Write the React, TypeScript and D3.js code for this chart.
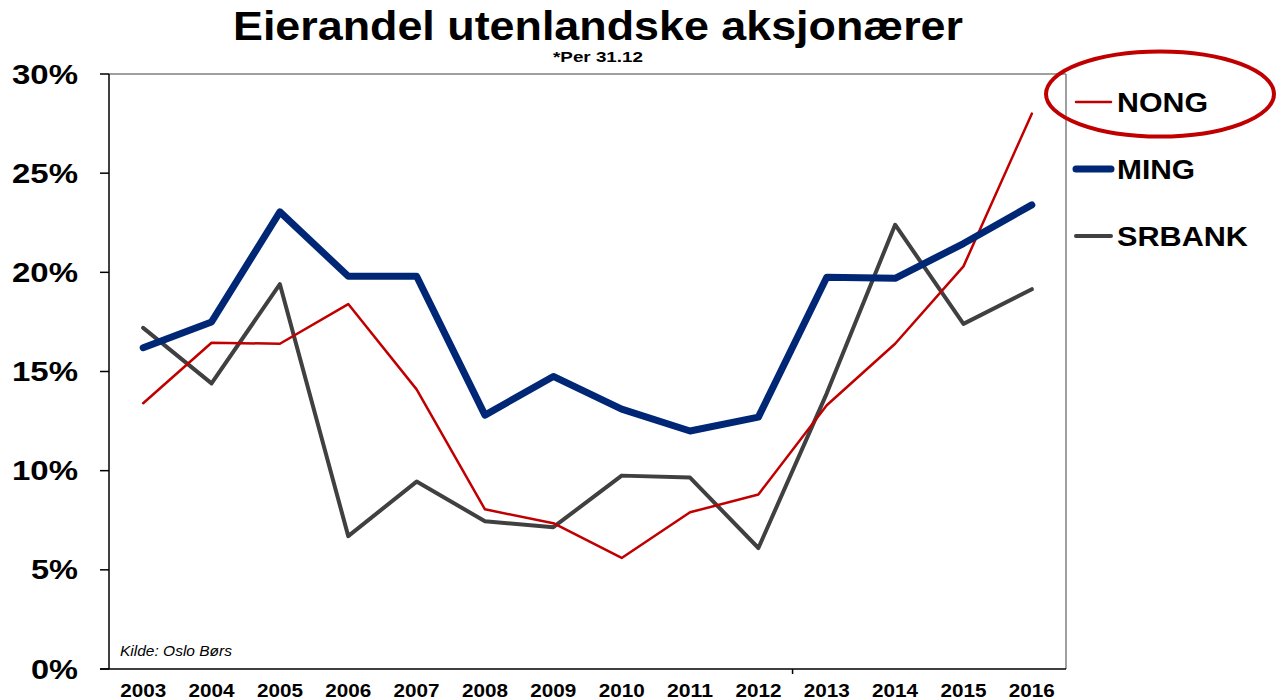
import React from "react"
import * as d3 from "d3"

const years = ["2003", "2004", "2005", "2006", "2007", "2008", "2009", "2010", "2011", "2012", "2013", "2014", "2015", "2016"]
const nong = [13.4, 16.45, 16.4, 18.4, 14.1, 8.05, 7.35, 5.6, 7.9, 8.8, 13.3, 16.4, 20.3, 28.0]
const ming = [16.2, 17.5, 23.05, 19.8, 19.8, 12.8, 14.75, 13.1, 12.0, 12.7, 19.75, 19.7, 21.45, 23.4]
const srbank = [17.2, 14.4, 19.4, 6.7, 9.45, 7.45, 7.15, 9.75, 9.65, 6.1, 13.9, 22.4, 17.4, 19.15]
const yTicks = [0, 5, 10, 15, 20, 25, 30]

const series = [
  {name: "NONG", values: nong, color: "#C00000", width: 2.5, labelW: 91},
  {name: "MING", values: ming, color: "#002776", width: 7, labelW: 78},
  {name: "SRBANK", values: srbank, color: "#404040", width: 4, labelW: 131},
]

const left = 109, right = 1066, top = 74, bottom = 669

const App = () => {
  const x = d3.scalePoint().domain(years).range([left, right]).padding(0.5)
  const step = x.step()
  const y = d3.scaleLinear().domain([0, 30]).range([bottom, top])
  const line = d3.line<number>()
    .x((d, i) => x(years[i]) as number)
    .y(d => y(d))

  return (
    <svg width={1276} height={700} style={{position: "absolute", left: 0, top: 0}}
      fontFamily="'Liberation Sans', Arial, sans-serif">
      <rect width={1276} height={700} fill="#fff" />
      <text x={598} y={40} textAnchor="middle" fontSize={41} fontWeight="bold"
        textLength={730} lengthAdjust="spacingAndGlyphs">Eierandel utenlandske aksjonærer</text>
      <text x={598} y={62} textAnchor="middle" fontSize={14} fontWeight="bold"
        textLength={90} lengthAdjust="spacingAndGlyphs">*Per 31.12</text>

      {/* frame */}
      <line x1={left} x2={right} y1={top} y2={top} stroke="#808080" strokeWidth={1.5} />
      <line x1={right} x2={right} y1={top} y2={bottom} stroke="#808080" strokeWidth={1.5} />
      <line x1={left} x2={left} y1={top} y2={bottom} stroke="#000" strokeWidth={1.5} />
      <line x1={100} x2={right} y1={bottom} y2={bottom} stroke="#000" strokeWidth={1.5} />
      <line x1={left + step * 10} x2={left + step * 10} y1={bottom} y2={bottom + 5} stroke="#000" strokeWidth={1.5} />

      {yTicks.map(t => (
        <g key={t}>
          <line x1={100} x2={left} y1={y(t)} y2={y(t)} stroke="#000" strokeWidth={1.5} />
          <text x={78} y={y(t) + 9.5} textAnchor="end" fontSize={27} fontWeight="bold"
            textLength={t >= 10 ? 66 : 47} lengthAdjust="spacingAndGlyphs">{t}%</text>
        </g>
      ))}

      {years.map(yr => (
        <text key={yr} x={x(yr)} y={697} textAnchor="middle" fontSize={18} fontWeight="bold"
          textLength={46} lengthAdjust="spacingAndGlyphs">{yr}</text>
      ))}

      <text x={120} y={656} fontSize={14} fontStyle="italic"
        textLength={112} lengthAdjust="spacingAndGlyphs">Kilde: Oslo Børs</text>

      {[series[2], series[0], series[1]].map(s => (
        <path key={s.name} d={line(s.values) || ""} fill="none" stroke={s.color}
          strokeWidth={s.width} strokeLinejoin="round" strokeLinecap="round" />
      ))}

      {/* legend */}
      {series.map((s, i) => {
        const ly = 102 + i * 67
        return (
          <g key={s.name}>
            <line x1={1076} x2={1111} y1={ly} y2={ly} stroke={s.color} strokeWidth={s.width}
              strokeLinecap="round" />
            <text x={1117} y={ly + 10} fontSize={27} fontWeight="bold"
              textLength={s.labelW} lengthAdjust="spacingAndGlyphs">{s.name}</text>
          </g>
        )
      })}
      <ellipse cx={1160} cy={94} rx={114} ry={42.5} fill="none" stroke="#C00000" strokeWidth={4} />
    </svg>
  )
}

export default App
